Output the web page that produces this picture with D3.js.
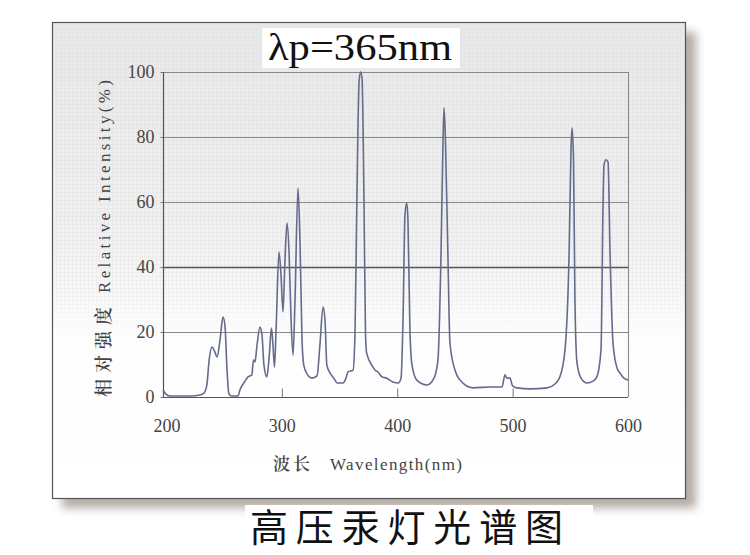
<!DOCTYPE html>
<html><head><meta charset="utf-8">
<script src="https://cdn.jsdelivr.net/npm/d3@7/dist/d3.min.js"></script>
<style>body{margin:0;background:#fff}svg{display:block}
.serif{font-family:"Liberation Serif","Times New Roman","DejaVu Serif",serif}
.cjk{font-family:"Noto Sans CJK SC","Noto Sans CJK JP",sans-serif}
.cjkserif{font-family:"Noto Serif CJK SC","Noto Sans CJK SC",serif}
</style>
</head><body>
<script>
// ---- data ----
const wavelength = [197,199.6,203,211.7,220.4,229,232.5,235,237,239.5,242,243.8,246.4,249,250.7,252.5,254,256,262,263.7,267,270.7,274,275.4,276.7,278.5,281,282.8,284.5,287,288.8,291,292.3,293.6,295,297.5,299.3,301,302.7,304.5,306.2,308,309.7,311.4,314,315.7,317.5,319,321.8,326,330.5,333,335.7,337.4,339,341.7,345,348,353,355.6,357.3,361.7,363.4,365,367,368.3,369.5,371.2,372.5,373.5,379,380.7,383.3,386.8,391,396.3,400.7,403.3,405,406.7,408.2,409.3,411,412.8,417,425.8,431.9,435.3,438,439.7,440.6,441.8,444,445.7,450,454.4,465.7,480.4,490.8,493.4,495,497.7,500,503.8,515,529.8,536.7,541,545.4,549,550.6,551.5,552.8,554,555.8,559.3,564.5,569.7,573,576.6,578.4,579.2,581,582.7,584.4,587,590.5,593,596.5,600];
const intensity = [2.2,0.9,0.3,0.3,0.3,0.6,1.2,3.7,11.4,15.4,13.8,12.3,17.5,24.6,22,8.3,1.2,0.3,0.3,2.2,4.3,6.2,6.8,11.4,10.8,16,21.5,19,9.8,6.2,11.4,21.2,16,9.2,20.6,44.6,37.5,26.2,42,53.5,45,23.7,12.9,29.8,64.3,48.3,17.5,9.8,7.1,5.8,6.5,16,27.7,23.7,9.8,7.4,5.8,4.3,4.3,5.8,7.7,8.3,19.7,60,97.5,100,98,60,19.7,13.5,9.2,8.3,7.7,6.2,5.8,4.6,4.3,5.8,23.7,56,59.7,54.5,20.6,9.8,5.2,3.7,5.8,11.4,45,79,89,79,42,16.6,8.3,5.2,2.8,3.1,3.1,6.8,5.8,5.8,3.4,2.8,2.5,2.8,4,6.2,14.5,45,76,82.8,73,30,10.5,5.8,4.3,4.9,6.2,14.5,60,71.4,73,72.3,45,16.6,8.9,7.4,5.8,5.2];
const xTicks = [200,300,400,500,600];
const yTicks = [0,20,40,60,80,100];
const title = "λp=365nm";
const caption = "高压汞灯光谱图";
const yTitleCn = "相对强度", yTitleEn = "Relative Intensity(%)";
const xTitleCn = "波长", xTitleEn = "Wavelength(nm)";

const W = 750, H = 555;
const svg = d3.select("body").append("svg").attr("width", W).attr("height", H);
const defs = svg.append("defs");

const bg = defs.append("linearGradient").attr("id","cardbg").attr("x1",0).attr("y1",0).attr("x2",0).attr("y2",1);
bg.append("stop").attr("offset","0%").attr("stop-color","#e8e8e8");
bg.append("stop").attr("offset","45%").attr("stop-color","#f1f1f1");
bg.append("stop").attr("offset","65%").attr("stop-color","#fdfdfd");
bg.append("stop").attr("offset","100%").attr("stop-color","#ffffff");

const pat = defs.append("pattern").attr("id","tex").attr("width",4).attr("height",4).attr("patternUnits","userSpaceOnUse");
pat.append("path").attr("d","M0,0.5H4M0.5,0V4").attr("stroke","#dcdcdc").attr("stroke-width",0.6).attr("fill","none");
const fade = defs.append("linearGradient").attr("id","fade").attr("x1",0).attr("y1",0).attr("x2",0).attr("y2",1);
fade.append("stop").attr("offset","0%").attr("stop-color","#fff").attr("stop-opacity",1);
fade.append("stop").attr("offset","50%").attr("stop-color","#fff").attr("stop-opacity",0.8);
fade.append("stop").attr("offset","62%").attr("stop-color","#fff").attr("stop-opacity",0);
const mask = defs.append("mask").attr("id","texmask");
mask.append("rect").attr("x",0).attr("y",0).attr("width",W).attr("height",H).attr("fill","url(#fade)");

const blur = defs.append("filter").attr("id","shadow").attr("x","-10%").attr("y","-10%").attr("width","130%").attr("height","130%");
blur.append("feGaussianBlur").attr("stdDeviation",5);

// card shadow
svg.append("rect").attr("x",62).attr("y",32).attr("width",634).attr("height",476)
  .attr("fill","#9a8f86").attr("opacity",0.75).attr("filter","url(#shadow)");
// card
svg.append("rect").attr("x",52).attr("y",22).attr("width",634).attr("height",477)
  .attr("fill","url(#cardbg)");
svg.append("rect").attr("x",52).attr("y",22).attr("width",634).attr("height",477)
  .attr("fill","url(#tex)").attr("mask","url(#texmask)").attr("opacity",0.6);
svg.append("rect").attr("x",52.5).attr("y",22.5).attr("width",633).attr("height",476)
  .attr("fill","none").attr("stroke","#555").attr("stroke-width",1.2);

// scales
const x = d3.scaleLinear().domain([197,600]).range([163,628]);
const y = d3.scaleLinear().domain([0,100]).range([397,72]);

const g = svg.append("g");
// horizontal grid lines
g.selectAll("line.grid").data(yTicks.filter(d=>d>0)).join("line")
  .attr("x1",163).attr("x2",628).attr("y1",d=>y(d)+0.5).attr("y2",d=>y(d)+0.5)
  .attr("stroke",d=>d===40?"#555":"#888").attr("stroke-width",d=>d===40?1.3:1.1);
// right border
g.append("line").attr("x1",628.5).attr("x2",628.5).attr("y1",72).attr("y2",397).attr("stroke","#888").attr("stroke-width",1.1);

// axes
const xAxis = d3.axisBottom(x).tickValues(xTicks).tickSize(-9).tickPadding(22).tickFormat(d3.format("d"));
const gx = g.append("g").attr("transform","translate(0,397.5)").call(xAxis).attr("font-family",null);
gx.select(".domain").attr("stroke","#555").attr("stroke-width",1.2).attr("d","M163,0H628");
gx.selectAll(".tick line").attr("stroke","#777");
gx.selectAll(".tick").filter(d=>d===200||d===600).select("line").remove();
gx.selectAll("text").attr("class","serif").attr("font-size",18).attr("fill","#444");

const yAxis = d3.axisLeft(y).tickValues(yTicks).tickSize(3).tickPadding(6);
const gy = g.append("g").attr("transform","translate(163.5,0)").call(yAxis).attr("font-family",null);
gy.select(".domain").attr("stroke","#555").attr("stroke-width",1.2).attr("d","M0,72V397");
gy.selectAll(".tick line").attr("stroke","#777");
gy.selectAll("text").attr("class","serif").attr("font-size",18).attr("fill","#444");

// spectrum line
const pts = wavelength.map((w,i)=>[w,intensity[i]]);
const line = d3.line().x(d=>x(d[0])).y(d=>y(d[1])).curve(d3.curveMonotoneX);
g.append("path").datum(pts).attr("d",line).attr("fill","none")
  .attr("stroke","#646b8c").attr("stroke-width",1.6).attr("stroke-linejoin","round");

// title with white box
svg.append("rect").attr("x",262).attr("y",28).attr("width",198).attr("height",40).attr("fill","#fff");
svg.append("text").attr("class","serif").attr("x",268).attr("y",60)
  .attr("font-size",38).attr("fill","#111").attr("textLength",184).attr("lengthAdjust","spacingAndGlyphs").text(title);

// y-axis title (rotated)
const yt = svg.append("g").attr("transform","translate(110,0) rotate(-90)");
yt.append("text").attr("class","cjkserif").attr("x",-397).attr("y",0)
  .attr("font-size",18).attr("font-weight",600).attr("fill","#444").attr("textLength",90).attr("lengthAdjust","spacing").text(yTitleCn);
yt.append("text").attr("class","serif").attr("x",-293).attr("y",0)
  .attr("font-size",17).attr("fill","#444").attr("textLength",213).attr("lengthAdjust","spacing").text(yTitleEn);

// x-axis title
svg.append("text").attr("class","cjkserif").attr("x",273).attr("y",470)
  .attr("font-size",17).attr("font-weight",600).attr("fill","#444").attr("textLength",37).attr("lengthAdjust","spacing").text(xTitleCn);
svg.append("text").attr("class","serif").attr("x",330).attr("y",470)
  .attr("font-size",17).attr("fill","#444").attr("textLength",132).attr("lengthAdjust","spacing").text(xTitleEn);

// caption with white box
svg.append("rect").attr("x",245).attr("y",505).attr("width",348).attr("height",50).attr("fill","#fff");
svg.append("text").attr("class","cjk").attr("x",250).attr("y",541)
  .attr("font-size",38).attr("fill","#111").attr("textLength",313).attr("lengthAdjust","spacing").text(caption);
</script>
</body></html>
